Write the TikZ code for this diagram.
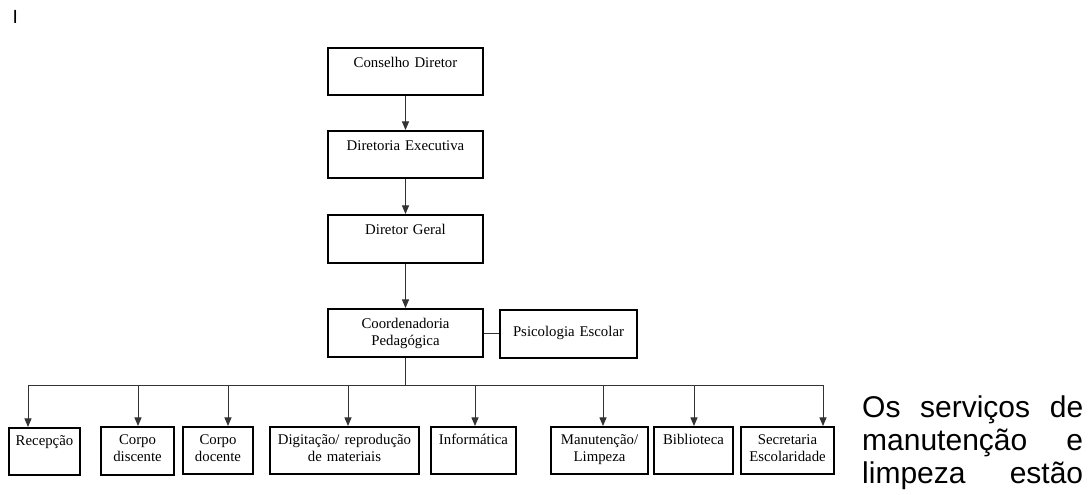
\documentclass[tikz,border=0pt]{standalone}
\usepackage{fontspec}
\setmainfont{Liberation Serif}
\newfontfamily\notefont{Liberation Sans}
\usetikzlibrary{arrows}
\tikzstyle{Unit}=[draw=black, line width=2pt, fill=white, inner xsep=0pt, inner ysep=0pt, anchor=north west, align=center, font=\fontsize{14.8}{17.5}\selectfont, text height=19pt, text depth=28pt]
\tikzstyle{Section}=[style=Unit, text height=17pt, text depth=30pt]
\tikzstyle{link}=[line width=1pt, draw=black!80]

\begin{document}
\begin{tikzpicture}[x=1pt, y=-1pt]
	\useasboundingbox (0,0) rectangle (1088,495);
	\node [anchor=base west, inner sep=0pt, font=\notefont\fontsize{19}{19}\selectfont] (marca) at (12.5,24) {I};
	% direction
	\node [style=Unit, text width=155pt] (conselho) at (327,47) {Conselho Diretor};
	\node [style=Unit, text width=155pt] (diretoria) at (327,130) {Diretoria Executiva};
	\node [style=Unit, text width=155pt, text depth=29pt] (diretor_geral) at (327,214) {Diretor Geral};
	\node [style=Unit, text width=155pt, text depth=29pt] (coordenadoria) at (327,308) {Coordenadoria\\Pedag\'ogica};
	\node [style=Unit, text width=137pt, text height=26pt, text depth=22pt] (psicologia) at (499,309) {Psicologia Escolar};
	% sections
	\node [style=Section, text width=71pt] (recepcao) at (8,427) {Recepção};
	\node [style=Section, text width=73pt, text depth=31pt] (discente) at (100,426) {Corpo\\discente};
	\node [style=Section, text width=70pt] (docente) at (182,426) {Corpo\\docente};
	\node [style=Section, text width=149pt] (digitacao) at (269,426) {Digitação/ reprodução\\de materiais};
	\node [style=Section, text width=85pt] (informatica) at (430,426) {Informática};
	\node [style=Section, text width=97pt] (manutencao) at (550,426) {Manutenção/\\Limpeza};
	\node [style=Section, text width=79pt] (biblioteca) at (653,426) {Biblioteca};
	\node [style=Section, text width=93pt] (secretaria) at (740,426) {Secretaria\\Escolaridade};
	% bus
	\coordinate (bus_recepcao) at (28,385);
	\coordinate (bus_discente) at (138,385);
	\coordinate (bus_docente) at (228,385);
	\coordinate (bus_digitacao) at (348,385);
	\coordinate (bus_informatica) at (475,385);
	\coordinate (bus_manutencao) at (603,385);
	\coordinate (bus_biblioteca) at (694,385);
	\coordinate (bus_secretaria) at (823,385);

	\draw [style=link, -triangle 45] (conselho) -- (diretoria);
	\draw [style=link, -triangle 45] (diretoria) -- (diretor_geral);
	\draw [style=link, -triangle 45] (diretor_geral) -- (coordenadoria);
	\draw [style=link] (coordenadoria.east) -- (psicologia.west |- coordenadoria.east);
	\draw [style=link] (coordenadoria.south) -- (coordenadoria.south |- bus_recepcao);
	\draw [style=link] (bus_recepcao) -- (bus_secretaria);
	\foreach \n in {recepcao, discente, docente, digitacao, informatica, manutencao, biblioteca, secretaria}
		\draw [style=link, -triangle 45] (bus_\n) -- (bus_\n |- \n.north);

	% note
	\node [anchor=base west, inner sep=0pt, text width=221pt, font=\notefont\fontsize{30}{33}\selectfont] (nota) at (862,417) {\makebox[221pt]{Os \hfill serviços \hfill de}\\\makebox[221pt]{manutenção \hfill e}\\\makebox[221pt]{limpeza \hfill estão}};
\end{tikzpicture}
\end{document}
